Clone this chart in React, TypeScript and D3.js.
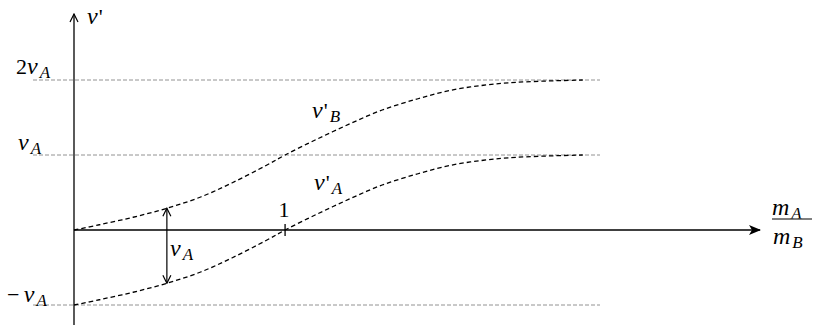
import React from 'react';
import * as d3 from 'd3';

// mass ratio m_A / m_B sampled along the curves
const ratio = [0, 0.12, 0.28, 0.44, 0.6, 0.75, 0.91, 1.0, 1.15, 1.31, 1.46, 1.63, 1.78, 1.94, 2.1, 2.41];
// velocities in units of v_A
const vB = [0, 0.07, 0.17, 0.29, 0.44, 0.63, 0.86, 1.0, 1.21, 1.42, 1.6, 1.75, 1.86, 1.93, 1.97, 2.0];
const vA = [-1.0, -0.93, -0.83, -0.71, -0.56, -0.37, -0.14, 0, 0.21, 0.42, 0.6, 0.75, 0.86, 0.93, 0.97, 1.0];
const refLevels = [2, 1, -1];
const xTicks = [1];
const arrowAt = 0.44;

const App = () => {
  const ref = React.useRef<SVGSVGElement>(null);

  React.useEffect(() => {
    const svg = d3.select(ref.current);
    svg.selectAll('*').remove();

    const x = d3.scaleLinear().domain([0, 3.25]).range([74, 760]);
    const y = d3.scaleLinear().domain([-1, 2]).range([305, 80]);
    const font = '"Liberation Serif", "DejaVu Serif", serif';

    const defs = svg.append('defs');
    defs.append('marker')
      .attr('id', 'stealth').attr('viewBox', '0 0 12 10').attr('refX', 11).attr('refY', 5)
      .attr('markerWidth', 12).attr('markerHeight', 10).attr('markerUnits', 'userSpaceOnUse')
      .attr('orient', 'auto')
      .append('path').attr('d', 'M0,0 L12,5 L0,10 L3,5 Z').attr('fill', '#000');
    defs.append('marker')
      .attr('id', 'open').attr('viewBox', '0 0 10 10').attr('refX', 9).attr('refY', 5)
      .attr('markerWidth', 10).attr('markerHeight', 10).attr('markerUnits', 'userSpaceOnUse')
      .attr('orient', 'auto-start-reverse')
      .append('path').attr('d', 'M1,1 L9,5 L1,9').attr('fill', 'none').attr('stroke', '#000').attr('stroke-width', 1.2);

    // reference dashed lines
    svg.append('g')
      .selectAll('line')
      .data(refLevels)
      .join('line')
      .attr('x1', 33).attr('x2', 600)
      .attr('y1', (d) => y(d)).attr('y2', (d) => y(d))
      .attr('stroke', '#777').attr('stroke-width', 0.8).attr('stroke-dasharray', '4,2');

    // axes
    svg.append('line')
      .attr('x1', x(0)).attr('x2', x(0)).attr('y1', 325).attr('y2', 14)
      .attr('stroke', '#000').attr('stroke-width', 1.3).attr('marker-end', 'url(#open)');
    svg.append('line')
      .attr('x1', x(0)).attr('x2', x(3.25)).attr('y1', y(0)).attr('y2', y(0))
      .attr('stroke', '#000').attr('stroke-width', 1.3).attr('marker-end', 'url(#stealth)');

    svg.append('g')
      .selectAll('line')
      .data(xTicks)
      .join('line')
      .attr('x1', (d) => x(d)).attr('x2', (d) => x(d))
      .attr('y1', y(0) - 6).attr('y2', y(0) + 6)
      .attr('stroke', '#000').attr('stroke-width', 1.3);
    svg.append('g')
      .selectAll('text')
      .data(xTicks)
      .join('text')
      .attr('x', (d) => x(d) - 1).attr('y', 217)
      .attr('text-anchor', 'middle')
      .style('font-family', font).style('font-size', '22px')
      .text((d) => d);

    // curves
    const line = d3.line<number>()
      .x((d, i) => x(ratio[i]))
      .y((d) => y(d))
      .curve(d3.curveCatmullRom);
    [vB, vA].forEach((s) => {
      svg.append('path')
        .attr('d', line(s))
        .attr('fill', 'none').attr('stroke', '#000').attr('stroke-width', 1.3)
        .attr('stroke-dasharray', '4.5,3');
    });

    // double arrow between curves
    const i = ratio.indexOf(arrowAt);
    svg.append('line')
      .attr('x1', x(arrowAt)).attr('x2', x(arrowAt))
      .attr('y1', y(vA[i])).attr('y2', y(vB[i]))
      .attr('stroke', '#000').attr('stroke-width', 1.2)
      .attr('marker-start', 'url(#open)').attr('marker-end', 'url(#open)');

    // labels
    const label = (px, py, main, sub, prime = false, pre = '') => {
      const t = svg.append('text').attr('x', px).attr('y', py)
        .style('font-family', font).style('font-size', '22px');
      if (pre) t.append('tspan').text(pre);
      t.append('tspan').style('font-style', 'italic').style('font-size', '24px').text(main);
      if (prime) t.append('tspan').attr('dx', 1).text("'");
      if (sub) t.append('tspan').style('font-style', 'italic').style('font-size', '17px')
        .attr('dx', 2).attr('dy', 4).text(sub);
    };
    label(87, 24, 'v', '', true);
    label(16, 74, 'v', 'A', false, '2');
    label(18, 150, 'v', 'A');
    label(7, 302, 'v', 'A', false, '\u2212\u2009');
    label(312, 118, 'v', 'B', true);
    label(314, 190, 'v', 'A', true);
    label(170, 256, 'v', 'A');

    // fraction m_A / m_B
    label(772, 215, 'm', 'A');
    svg.append('line')
      .attr('x1', 772).attr('x2', 812).attr('y1', 219).attr('y2', 219)
      .attr('stroke', '#555').attr('stroke-width', 1.5);
    label(773, 244, 'm', 'B');
  }, []);

  return <svg ref={ref} width={814} height={325} style={{ position: 'absolute', left: 0, top: 0 }}></svg>;
};

export default App;
